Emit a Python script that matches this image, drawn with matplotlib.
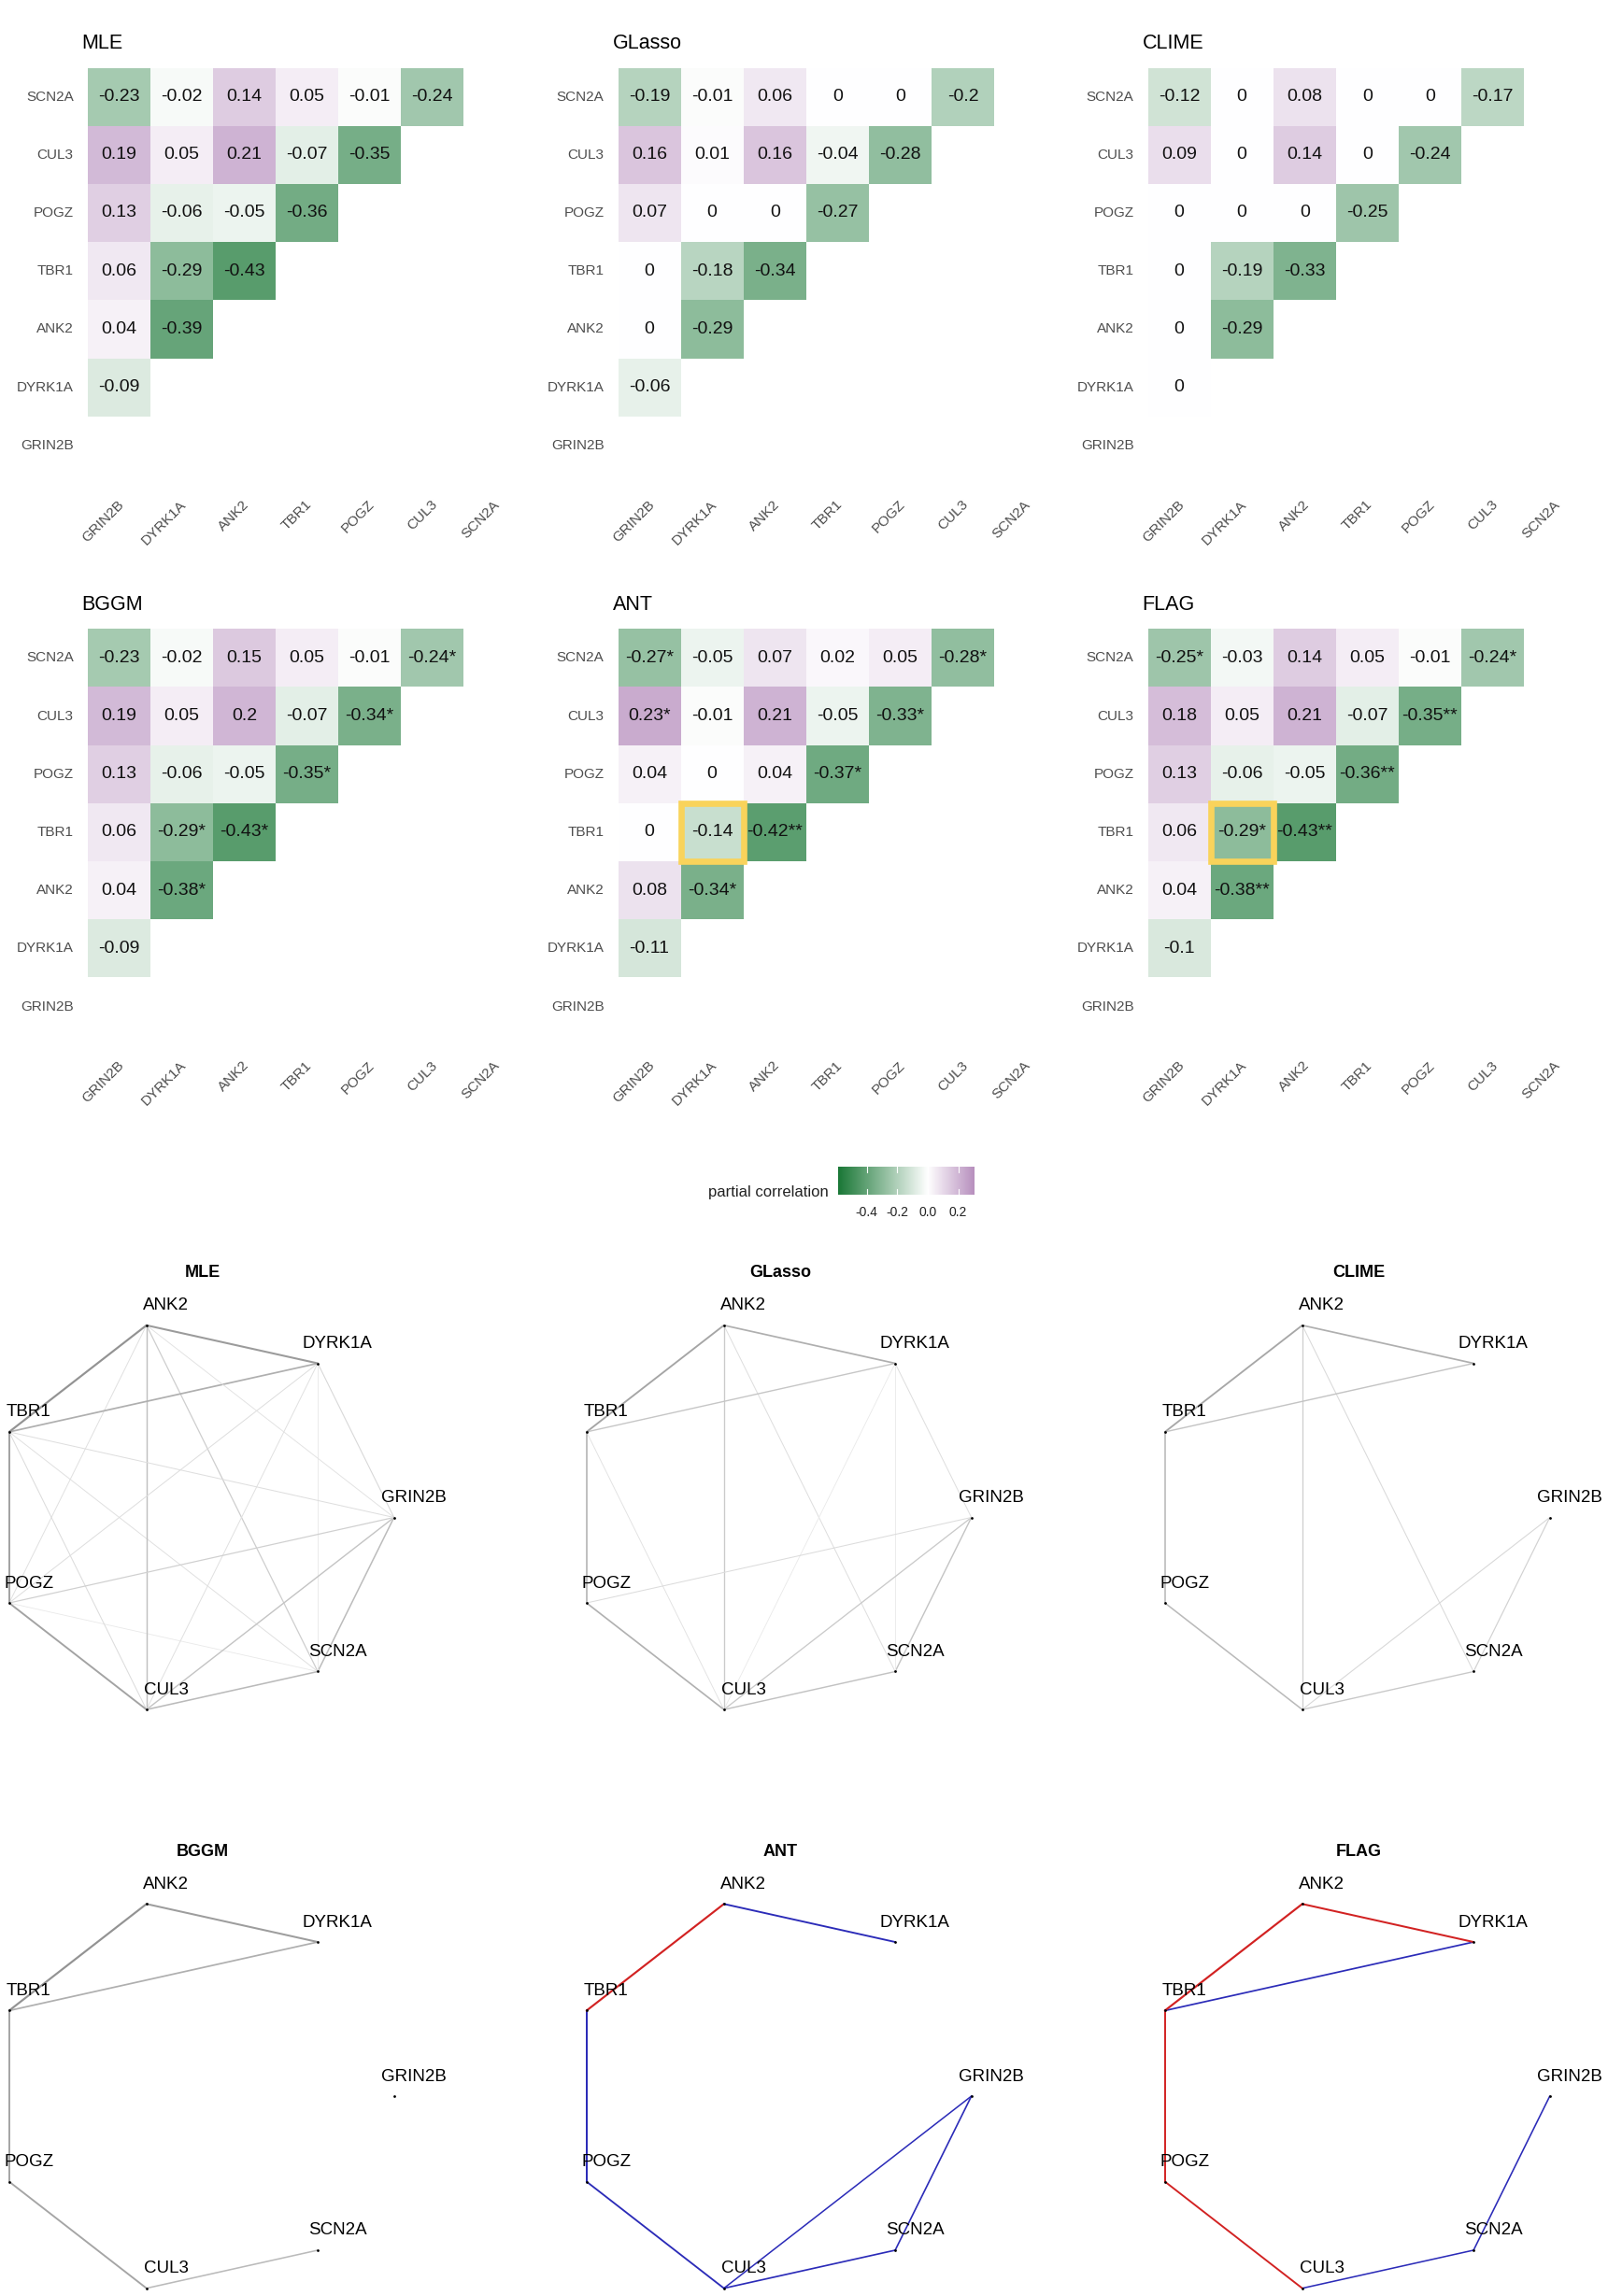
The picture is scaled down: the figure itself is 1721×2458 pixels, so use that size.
import numpy as np
import matplotlib
matplotlib.use("Agg")
import matplotlib.pyplot as plt
from matplotlib.colors import LinearSegmentedColormap, Normalize
from matplotlib.patches import Rectangle

plt.rcParams['font.family'] = ['Liberation Sans', 'DejaVu Sans']

W, H = 1721, 2458

# genes in column order (left to right); rows run the other way (top = SCN2A)
GENES = ["GRIN2B", "DYRK1A", "ANK2", "TBR1", "POGZ", "CUL3", "SCN2A"]

# lower-triangle cells, row by row from the top (SCN2A, CUL3, POGZ, TBR1, ANK2, DYRK1A)
MLE = [["-0.23", "-0.02", "0.14", "0.05", "-0.01", "-0.24"],
       ["0.19", "0.05", "0.21", "-0.07", "-0.35"],
       ["0.13", "-0.06", "-0.05", "-0.36"],
       ["0.06", "-0.29", "-0.43"],
       ["0.04", "-0.39"],
       ["-0.09"]]
GLASSO = [["-0.19", "-0.01", "0.06", "0", "0", "-0.2"],
          ["0.16", "0.01", "0.16", "-0.04", "-0.28"],
          ["0.07", "0", "0", "-0.27"],
          ["0", "-0.18", "-0.34"],
          ["0", "-0.29"],
          ["-0.06"]]
CLIME = [["-0.12", "0", "0.08", "0", "0", "-0.17"],
         ["0.09", "0", "0.14", "0", "-0.24"],
         ["0", "0", "0", "-0.25"],
         ["0", "-0.19", "-0.33"],
         ["0", "-0.29"],
         ["0"]]
BGGM = [["-0.23", "-0.02", "0.15", "0.05", "-0.01", "-0.24*"],
        ["0.19", "0.05", "0.2", "-0.07", "-0.34*"],
        ["0.13", "-0.06", "-0.05", "-0.35*"],
        ["0.06", "-0.29*", "-0.43*"],
        ["0.04", "-0.38*"],
        ["-0.09"]]
ANT = [["-0.27*", "-0.05", "0.07", "0.02", "0.05", "-0.28*"],
       ["0.23*", "-0.01", "0.21", "-0.05", "-0.33*"],
       ["0.04", "0", "0.04", "-0.37*"],
       ["0", "-0.14", "-0.42**"],
       ["0.08", "-0.34*"],
       ["-0.11"]]
FLAG = [["-0.25*", "-0.03", "0.14", "0.05", "-0.01", "-0.24*"],
        ["0.18", "0.05", "0.21", "-0.07", "-0.35**"],
        ["0.13", "-0.06", "-0.05", "-0.36**"],
        ["0.06", "-0.29*", "-0.43**"],
        ["0.04", "-0.38**"],
        ["-0.1"]]

METHODS = ["MLE", "GLasso", "CLIME", "BGGM", "ANT", "FLAG"]
CELLS = [MLE, GLASSO, CLIME, BGGM, ANT, FLAG]
# (row gene, column gene) of the highlighted cell
HIGHLIGHT = {"ANT": ("TBR1", "DYRK1A"), "FLAG": ("TBR1", "DYRK1A")}
# network edge style: all non-zero entries, or only starred ones
EDGE_MODE = {"MLE": "nonzero", "GLasso": "nonzero", "CLIME": "nonzero",
             "BGGM": "gray_star", "ANT": "color_star", "FLAG": "color_star"}

COLOR_LIMIT = 0.587
BAR_RANGE = (-0.587, 0.306)
BAR_TICKS = [-0.4, -0.2, 0.0, 0.2]

cmap = LinearSegmentedColormap.from_list("prgn", ["#1B7837", "#FFFFFF", "#762A83"])
norm = Normalize(-COLOR_LIMIT, COLOR_LIMIT)


def px_rect(x, y, w, h):
    return [x / W, 1 - (y + h) / H, w / W, h / H]


def parse(cell):
    return float(cell.rstrip("*"))


fig = plt.figure(figsize=(W / 100, H / 100), dpi=100)
fig.patch.set_facecolor("white")

# ---------------- heatmaps ----------------
heat_x = [93.7, 661.5, 1228.5]
heat_y = [72.5, 673.2]
cw, ch = 67.1, 62.2
n = len(GENES)
row_genes = GENES[::-1]

for k, (name, cells) in enumerate(zip(METHODS, CELLS)):
    ax = fig.add_axes(px_rect(heat_x[k % 3], heat_y[k // 3], n * cw, n * ch))
    vals = np.full((n, n), np.nan)
    for r, row in enumerate(cells):
        for c, cell in enumerate(row):
            vals[r, c] = parse(cell)
    ax.pcolormesh(np.arange(n + 1), np.arange(n + 1), np.ma.masked_invalid(vals),
                  cmap=cmap, norm=norm, edgecolors="none")
    for r, row in enumerate(cells):
        for c, cell in enumerate(row):
            ax.text(c + 0.5, r + 0.5, cell, ha="center", va="center",
                    fontsize=14, color="#111111")
    if name in HIGHLIGHT:
        rg, cg = HIGHLIGHT[name]
        r, c = row_genes.index(rg), GENES.index(cg)
        ax.add_patch(Rectangle((c, r), 1, 1, fill=False, edgecolor="#F9D35B",
                               lw=4.8, zorder=5, clip_on=False))
    ax.set_xlim(0, n)
    ax.set_ylim(n, 0)
    ax.axis("off")
    for r, g in enumerate(row_genes):
        ax.text(-15 / cw, r + 0.5, g, ha="right", va="center", fontsize=11,
                color="#4D4D4D", clip_on=False)
    for c, g in enumerate(GENES):
        ax.text(c + 0.5 + 8 / cw, n + 25 / ch, g, ha="right", va="top", rotation=45,
                fontsize=11, color="#4D4D4D", clip_on=False)
    ax.text(-6 / cw, -20.5 / ch, name, ha="left", va="baseline", fontsize=15.5,
            color="black", clip_on=False)

# ---------------- colour bar ----------------
cb = fig.add_axes(px_rect(897, 1249, 146, 30))
grad = np.linspace(BAR_RANGE[0], BAR_RANGE[1], 300)[None, :]
cb.imshow(grad, extent=[BAR_RANGE[0], BAR_RANGE[1], 0, 1], aspect="auto",
          cmap=cmap, norm=norm)
for t in BAR_TICKS:
    cb.plot([t, t], [0, 0.2], color="white", lw=0.8)
    cb.plot([t, t], [0.8, 1], color="white", lw=0.8)
    cb.text(t, -0.63, f"{t:.1f}", ha="center", va="center", fontsize=10,
            color="#222222", clip_on=False)
cb.set_xlim(*BAR_RANGE)
cb.set_ylim(0, 1)
cb.axis("off")
fig.text(887 / W, 1 - 1276 / H, "partial correlation", ha="right", va="center",
         fontsize=12, color="#222222")

# ---------------- networks ----------------
net_cx = [205, 823, 1442]
net_cy = [1624.5, 2244]
RX, RY = 216.7, 211.0
SPAN = 1.35
angles = 2 * np.pi * np.arange(n) / n
node_x, node_y = np.cos(angles), np.sin(angles)

for k, (name, cells) in enumerate(zip(METHODS, CELLS)):
    cx, cy = net_cx[k % 3], net_cy[k // 3]
    ax = fig.add_axes(px_rect(cx - SPAN * RX, cy - SPAN * RY, 2 * SPAN * RX, 2 * SPAN * RY))
    ax.set_xlim(-SPAN, SPAN)
    ax.set_ylim(-SPAN, SPAN)
    ax.axis("off")
    mode = EDGE_MODE[name]
    for r, row in enumerate(cells):
        gi = GENES.index(row_genes[r])
        for c, cell in enumerate(row):
            w = parse(cell)
            stars = cell.count("*")
            if mode == "nonzero":
                if w == 0:
                    continue
                color = str(np.clip(0.92 - 0.8 * abs(w), 0, 1))
            elif mode == "gray_star":
                if stars == 0:
                    continue
                color = str(np.clip(0.92 - 0.8 * abs(w), 0, 1))
            else:
                if stars == 0:
                    continue
                color = "#D22222" if stars >= 2 else "#2B2BB8"
            ax.plot([node_x[gi], node_x[c]], [node_y[gi], node_y[c]],
                    color=color, lw=0.72 * (0.8 + 3.2 * abs(w)),
                    solid_capstyle="round", clip_on=False, zorder=1)
    ax.plot(node_x, node_y, "o", color="black", ms=2, mec="none", zorder=3,
            clip_on=False)
    for i, g in enumerate(GENES):
        ax.text(node_x[i] + 21 / RX, node_y[i] + 21 / RY, g, ha="center",
                va="center", fontsize=13.5, color="black", zorder=4, clip_on=False)
    ax.text(12 / RX, 262 / RY, name, ha="center", va="center", fontsize=13,
            fontweight="bold", color="black", clip_on=False)

fig.savefig("out.png", dpi=100, facecolor="white")
